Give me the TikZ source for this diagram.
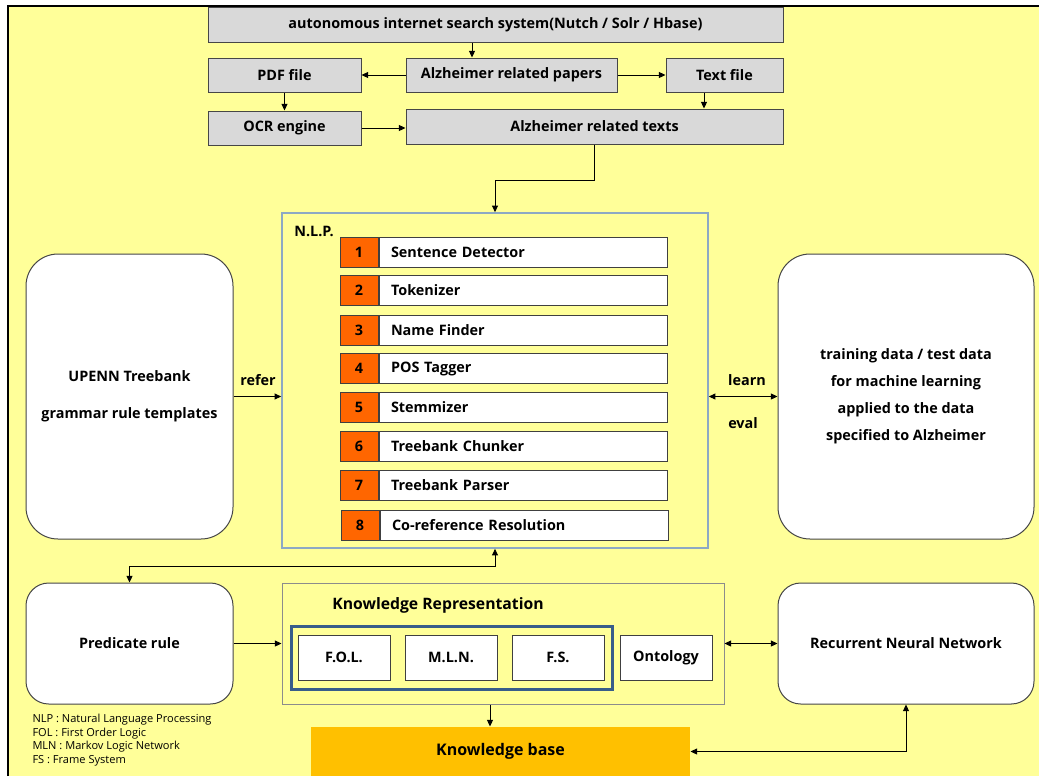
\documentclass[tikz,border=0pt]{standalone}
\usepackage{fontspec}
\setmainfont{Open Sans}
\usetikzlibrary{arrows.meta,calc}

\definecolor{bgyellow}{RGB}{255,255,153}
\definecolor{boxgray}{RGB}{217,217,217}
\definecolor{boxline}{RGB}{70,70,70}
\definecolor{stepline}{RGB}{64,64,64}
\definecolor{numorange}{RGB}{255,102,0}
\definecolor{nlpline}{RGB}{141,169,196}
\definecolor{krline}{RGB}{140,140,140}
\definecolor{logicblue}{RGB}{56,93,138}
\definecolor{kbgold}{RGB}{255,192,0}

\tikzset{every picture/.style={line width=0.75pt}}
\tikzset{
  arr/.style={-{Triangle[length=5pt,width=4.5pt]}},
  dblarr/.style={{Triangle[length=5pt,width=4.5pt]}-{Triangle[length=5pt,width=4.5pt]}},
  graybox/.style={draw=boxline, fill=boxgray, inner sep=0pt},
  numbox/.style={draw=stepline, fill=numorange, inner sep=0pt, minimum width=28.5pt, minimum height=22.5pt},
  stepbox/.style={draw=stepline, fill=white, anchor=west, inner sep=0pt, minimum height=22.5pt, text width=198pt, minimum width=216pt, align=left, inner xsep=9pt},
  roundbox/.style={draw=boxline, fill=white, rounded corners=20pt, align=center, inner sep=0pt},
  whitebox/.style={draw=stepline, fill=white, inner sep=0pt, minimum width=69pt, minimum height=33.75pt},
  every node/.style={font=\fontsize{10.8}{13}\selectfont\bfseries}
}

\begin{document}
\begin{tikzpicture}[x=0.75pt,y=0.75pt,yscale=-1,xscale=1]
\useasboundingbox (0,0) rectangle (1039,776);

%Shape: Rectangle [background]
\fill[bgyellow] (8,6) rectangle (1039,776);
\draw[line width=1.5pt] (8,776) -- (8,6) -- (1039,6);

%Shape: Rectangle [search chain]
\node[graybox, minimum width=431.25pt, minimum height=26.25pt] (search) at (495.5,24.5) {autonomous internet search system(Nutch / Solr / Hbase)};
\node[graybox, minimum width=158.25pt, minimum height=25.5pt] (papers) at (511.5,75) {Alzheimer related papers};
\node[graybox, minimum width=114.75pt, minimum height=25.5pt] (pdf) at (284.5,75) {PDF file};
\node[graybox, minimum width=87.75pt, minimum height=25.5pt] (txtfile) at (724.5,75) {Text file};
\node[graybox, minimum width=114.75pt, minimum height=25.5pt] (ocr) at (284.5,128) {OCR engine};
\node[graybox, minimum width=282.75pt, minimum height=26.25pt] (texts) at (594.5,126.5) {Alzheimer related texts};

%Shape: Rectangle [N.L.P.]
\node[draw=nlpline, line width=1.2pt, inner sep=0pt, minimum width=319.5pt, minimum height=251.25pt] (nlp) at (495,380.5) {};
% Text Node
\node (nlplbl) at (314,231) {N.L.P.};

%Shape: Rectangle [steps]
\node[numbox] (n1) at (359,252) {1};
\node[stepbox] (s1) at (n1.east) {Sentence Detector};
\node[numbox] (n2) at (359,290.5) {2};
\node[stepbox] (s2) at (n2.east) {Tokenizer};
\node[numbox] (n3) at (359,330.5) {3};
\node[stepbox] (s3) at (n3.east) {Name Finder};
\node[numbox] (n4) at (359,368.5) {4};
\node[stepbox] (s4) at (n4.east) {POS Tagger};
\node[numbox] (n5) at (359,407.5) {5};
\node[stepbox] (s5) at (n5.east) {Stemmizer};
\node[numbox] (n6) at (359,446) {6};
\node[stepbox] (s6) at (n6.east) {Treebank Chunker};
\node[numbox] (n7) at (359,485.5) {7};
\node[stepbox] (s7) at (n7.east) {Treebank Parser};
\node[numbox] (n8) at (360,525) {8};
\node[stepbox] (s8) at (n8.east) {Co-reference Resolution};

%Shape: Rounded Rectangle [side boxes]
\node[roundbox, rounded corners=24pt, minimum width=155.25pt, minimum height=213.75pt] (upenn) at (129.5,396.5) {UPENN Treebank\\[15pt]grammar rule templates};
\node[roundbox, rounded corners=24pt, minimum width=192pt, minimum height=213.75pt, font=\fontsize{10.8}{20.25}\selectfont\bfseries] (train) at (906,396.5) {training data / test data\\for machine learning\\applied to the data\\specified to Alzheimer};
% Text Node
\node (refer) at (258,380) {refer};
\node (learn) at (747,380) {learn};
\node (eval) at (743,423) {eval};

%Shape: Rounded Rectangle [lower row]
\node[roundbox, rounded corners=17pt, minimum width=155.25pt, minimum height=90.75pt] (pred) at (129.5,643.5) {Predicate rule};
\node[roundbox, rounded corners=17pt, minimum width=192pt, minimum height=90.75pt] (rnn) at (906,643.5) {Recurrent Neural Network};

%Shape: Rectangle [Knowledge Representation]
\node[draw=krline, inner sep=0pt, minimum width=331.5pt, minimum height=90.75pt] (kr) at (503,643.5) {};
% Text Node
\node[font=\fontsize{11.8}{14}\selectfont\bfseries] (krlbl) at (438,605) {Knowledge Representation};
\node[draw=logicblue, line width=2.25pt, inner sep=0pt, minimum width=240.75pt, minimum height=47.25pt] (logic) at (451.5,657.5) {};
\node[whitebox] (fol) at (344,657.5) {F.O.L.};
\node[whitebox] (mln) at (451,657.5) {M.L.N.};
\node[whitebox] (fs) at (558,657.5) {F.S.};
\node[whitebox] (onto) at (666,657.5) {Ontology};

%Shape: Rectangle [Knowledge base]
\node[fill=kbgold, inner sep=0pt, minimum width=284.25pt, minimum height=36.75pt, font=\fontsize{12}{14}\selectfont\bfseries] (kb) at (500.5,751.5) {Knowledge base};

% Text Node [legend]
\node[anchor=north west, align=left, inner sep=0pt, font=\fontsize{8.3}{10.1}\selectfont] (legend) at (32,714) {NLP : Natural Language Processing\\FOL : First Order Logic\\MLN : Markov Logic Network\\FS : Frame System};

%Straight Lines [connectors]
\coordinate (sdrop) at ($(search.south)+(-23.5,0)$);
\draw[arr] (sdrop) -- (sdrop |- papers.north);
\draw[arr] (papers.west) -- (pdf.east);
\draw[arr] (papers.east) -- (txtfile.west);
\draw[arr] (pdf.south) -- (ocr.north);
\coordinate (tdrop) at ($(txtfile.south)+(-20.5,0)$);
\draw[arr] (tdrop) -- (tdrop |- texts.north);
\draw[arr] (ocr.east) -- (ocr.east -| texts.west);
\draw[arr] (texts.south) -- ++(0,36) -| (nlp.north);
\draw[arr] (upenn.east) -- (upenn.east -| nlp.west);
\draw[dblarr] (nlp.east |- train.west) -- (train.west);
\draw[dblarr] (pred.north) -- ++(0,-16) -| (nlp.south);
\draw[arr] (pred.east) -- (kr.west);
\draw[dblarr] (kr.east) -- (rnn.west);
\coordinate (kdrop) at ($(kr.south)+(-13,0)$);
\draw[arr] (kdrop) -- (kdrop |- kb.north);
\draw[dblarr] (rnn.south) |- (kb.east);

\end{tikzpicture}
\end{document}
